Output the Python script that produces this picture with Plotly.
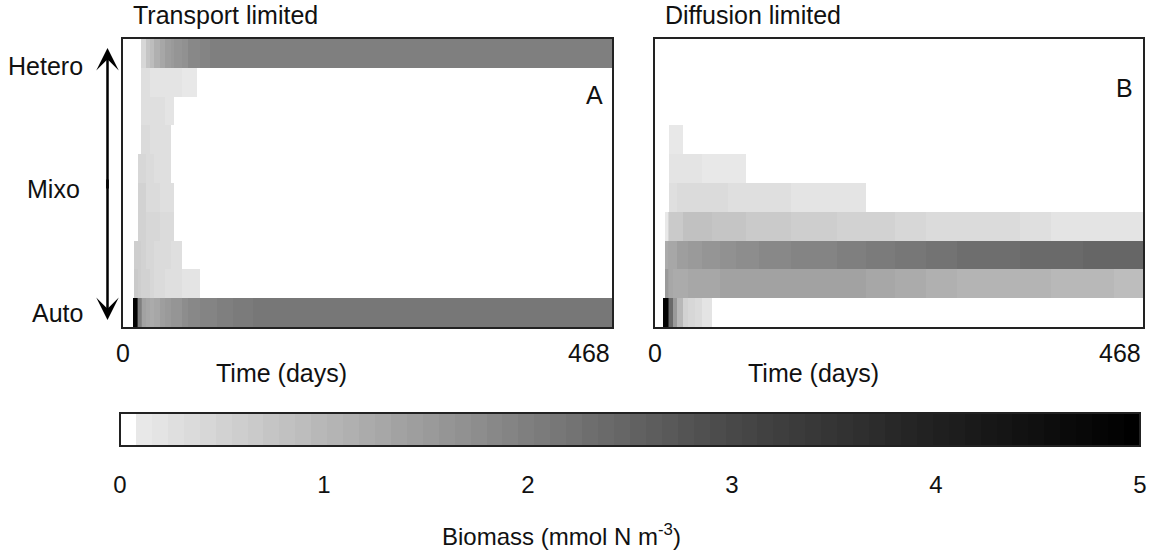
import numpy as np
import plotly.graph_objects as go

W, H = 1151, 550

# ---------------- data ----------------
panel_titles = ["Transport limited", "Diffusion limited"]
panel_letters = ["A", "B"]
time_tick_labels = ["0", "468"]
time_max = 468
cbar_ticks = [0, 1, 2, 3, 4, 5]
groups = list(range(10))  # 0 = Auto ... 9 = Hetero

# Panel A (transport limited): time bin edges (days)
time_edges_a = [0, 9.5, 10.5, 13.5, 14.5, 17, 18, 22, 26, 30, 35, 40, 46, 49, 56,
                62, 71, 74, 83, 90, 105, 124, 200, 300, 400, 468]
a_auto = [0, 4.9, 4.9, 3.5, 2.0, 1.84, 1.35, 1.25, 1.23, 1.3, 1.45, 1.54, 1.6, 1.63,
          1.73, 1.8, 1.82, 1.88, 1.9, 2.0, 2.07, 2.15, 2.15, 2.15, 2.15]
a_g1 = [0, 0, 0.68, 0.68, 0.6, 0.53, 0.53, 0.5, 0.42, 0.38, 0.36, 0.31, 0.31, 0.28,
        0.23, 0.23, 0.22, 0, 0, 0, 0, 0, 0, 0, 0]
a_g2 = [0, 0, 0.58, 0.58, 0.56, 0.5, 0.47, 0.45, 0.42, 0.38, 0.36, 0.33, 0.31, 0.29,
        0, 0, 0, 0, 0, 0, 0, 0, 0, 0, 0]
a_g3 = [0, 0, 0, 0, 0.53, 0.53, 0.5, 0.44, 0.42, 0.4, 0.36, 0.34, 0.33, 0,
        0, 0, 0, 0, 0, 0, 0, 0, 0, 0, 0]
a_g4 = [0, 0, 0, 0, 0.47, 0.47, 0.47, 0.38, 0.36, 0.34, 0.31, 0.30, 0.29, 0,
        0, 0, 0, 0, 0, 0, 0, 0, 0, 0, 0]
a_g5 = [0, 0, 0, 0, 0.44, 0.44, 0.44, 0.36, 0.34, 0.3, 0.27, 0.27, 0, 0,
        0, 0, 0, 0, 0, 0, 0, 0, 0, 0, 0]
a_g6 = [0, 0, 0, 0, 0, 0.34, 0.34, 0.34, 0.3, 0.27, 0.27, 0.27, 0, 0,
        0, 0, 0, 0, 0, 0, 0, 0, 0, 0, 0]
a_g7 = [0, 0, 0, 0, 0, 0.31, 0.31, 0.31, 0.28, 0.27, 0.26, 0.21, 0.19, 0,
        0, 0, 0, 0, 0, 0, 0, 0, 0, 0, 0]
a_g8 = [0, 0, 0, 0, 0, 0.31, 0.31, 0.31, 0.23, 0.23, 0.23, 0.21, 0.19, 0.17,
        0.12, 0.12, 0, 0, 0, 0, 0, 0, 0, 0, 0]
a_hetero = [0, 0, 0, 0, 0, 0.44, 0.45, 0.74, 0.9, 1.15, 1.3, 1.45, 1.55, 1.6,
            1.7, 1.8, 1.87, 1.89, 1.98, 1.98, 1.98, 1.98, 1.98, 1.98, 1.98]

# Panel B (diffusion limited)
time_edges_b = [0, 8, 9.6, 12.4, 13.4, 17, 21, 26.8, 32, 38, 45, 54.5, 62, 70, 78, 87,
                100, 115, 130, 150, 175, 202, 230, 260, 290, 320, 350, 380, 410, 440, 468]
b_auto = [0, 4.9, 4.9, 3.5, 2.4, 1.5, 1.0, 0.53, 0.45, 0.34, 0.19, 0, 0, 0, 0,
          0, 0, 0, 0, 0, 0, 0, 0, 0, 0, 0, 0, 0, 0, 0]
b_g1 = [0, 0, 1.54, 1.35, 1.27, 1.18, 1.18, 1.2, 1.27, 1.27, 1.3, 1.32, 1.34, 1.36, 1.36,
        1.36, 1.36, 1.36, 1.36, 1.36, 1.36, 1.27, 1.22, 1.15, 1.09, 1.07, 1.04, 1.0, 0.98, 0.93]
b_g2 = [0, 0, 1.21, 1.25, 1.32, 1.32, 1.43, 1.48, 1.52, 1.54, 1.61, 1.64, 1.68, 1.70, 1.73,
        1.79, 1.82, 1.86, 1.89, 1.93, 2.0, 2.09, 2.15, 2.22, 2.27, 2.31, 2.36, 2.42, 2.45, 2.49]
b_g3 = [0, 0, 0.12, 0.4, 0.68, 0.68, 0.68, 0.79, 0.79, 0.79, 0.79, 0.77, 0.74, 0.74, 0.74,
        0.7, 0.68, 0.65, 0.61, 0.57, 0.53, 0.47, 0.44, 0.38, 0.34, 0.32, 0.29, 0.23, 0.23, 0.23]
b_g4 = [0, 0, 0, 0, 0.31, 0.31, 0.36, 0.38, 0.38, 0.38, 0.34, 0.34, 0.34, 0.31, 0.31,
        0.29, 0.25, 0.25, 0.19, 0.19, 0.19, 0, 0, 0, 0, 0, 0, 0, 0, 0]
b_g5 = [0, 0, 0, 0, 0.23, 0.23, 0.23, 0.19, 0.19, 0.19, 0.14, 0.14, 0.14, 0.14, 0.14,
        0, 0, 0, 0, 0, 0, 0, 0, 0, 0, 0, 0, 0, 0, 0]
b_g6 = [0, 0, 0, 0, 0.14, 0.14, 0.14, 0, 0, 0, 0, 0, 0, 0, 0,
        0, 0, 0, 0, 0, 0, 0, 0, 0, 0, 0, 0, 0, 0, 0]
b_g7 = [0] * 30
b_g8 = [0] * 30
b_hetero = [0] * 30

rows_a = [a_auto, a_g1, a_g2, a_g3, a_g4, a_g5, a_g6, a_g7, a_g8, a_hetero]
rows_b = [b_auto, b_g1, b_g2, b_g3, b_g4, b_g5, b_g6, b_g7, b_g8, b_hetero]

# ---------------- style ----------------
FONT = "Liberation Sans, Arial, sans-serif"
TXT = "#111111"
FS = 25
ZMAX = 5
NSTEP = 64
anchor_v = [0.117, 1, 2, 3, 4, 4.96]
anchor_g = [232, 183, 127, 72, 32, 0]
colorscale = []
for k in range(NSTEP):
    if k == 0:
        g = 255
    else:
        g = int(round(np.interp((k + 0.5) * ZMAX / NSTEP, anchor_v, anchor_g)))
    c = f"rgb({g},{g},{g})"
    colorscale.append([k / NSTEP, c])
    colorscale.append([(k + 1) / NSTEP, c])


def px_x(p):
    return p / W


def px_y(p):
    return (H - p) / H


fig = go.Figure()
fig.add_trace(go.Heatmap(x=time_edges_a, y=groups, z=rows_a, coloraxis="coloraxis",
                         xaxis="x", yaxis="y", hoverinfo="skip"))
fig.add_trace(go.Heatmap(x=time_edges_b, y=groups, z=rows_b, coloraxis="coloraxis",
                         xaxis="x2", yaxis="y2", hoverinfo="skip"))

ax_common = dict(showgrid=False, zeroline=False, showticklabels=False, ticks="",
                 showline=True, linewidth=2, linecolor="#222222", mirror=True)
cb_left, cb_right, cb_top, cb_bot = 120, 1140, 413, 446

fig.update_layout(
    width=W, height=H,
    margin=dict(l=0, r=0, t=0, b=0),
    paper_bgcolor="white", plot_bgcolor="white",
    font=dict(family=FONT, size=FS, color=TXT),
    showlegend=False,
    xaxis=dict(domain=[px_x(123), px_x(612)], range=[0, time_max], anchor="y", **ax_common),
    yaxis=dict(domain=[px_y(327), px_y(39)], range=[-0.5, 9.5], anchor="x", **ax_common),
    xaxis2=dict(domain=[px_x(655), px_x(1143)], range=[0, time_max], anchor="y2", **ax_common),
    yaxis2=dict(domain=[px_y(327), px_y(39)], range=[-0.5, 9.5], anchor="x2", **ax_common),
    coloraxis=dict(
        colorscale=colorscale, cmin=0, cmax=ZMAX,
        colorbar=dict(
            orientation="h", x=px_x(cb_left), xanchor="left", y=px_y(cb_top), yanchor="top",
            len=(cb_right - cb_left) / W, lenmode="fraction",
            thickness=cb_bot - cb_top, thicknessmode="pixels",
            xpad=0, ypad=0, outlinewidth=2, outlinecolor="#222222",
            tickvals=cbar_ticks, ticktext=[str(t) for t in cbar_ticks],
            ticks="outside", ticklen=18, tickcolor="rgba(0,0,0,0)",
            tickfont=dict(size=FS - 1, color=TXT, family=FONT),
        ),
    ),
)

ann = []
# panel titles
for title, xp in zip(panel_titles, [131, 663]):
    ann.append(dict(text=title, xref="paper", yref="paper", x=px_x(xp), y=px_y(15),
                    xanchor="left", yanchor="middle", showarrow=False))
# panel letters
ann.append(dict(text=panel_letters[0], xref="x domain", yref="y domain", x=0.965, y=0.806,
                xanchor="center", yanchor="middle", showarrow=False))
ann.append(dict(text=panel_letters[1], xref="x2 domain", yref="y2 domain", x=0.963, y=0.83,
                xanchor="center", yanchor="middle", showarrow=False))
# time tick labels and axis titles
for xr in ["x", "x2"]:
    ann.append(dict(text=time_tick_labels[0], xref=xr, yref="paper", x=0, y=px_y(353),
                    xanchor="center", yanchor="middle", showarrow=False))
    ann.append(dict(text=time_tick_labels[1], xref=xr, yref="paper", x=time_max, y=px_y(353),
                    xanchor="right", yanchor="middle", showarrow=False))
    ann.append(dict(text="Time (days)", xref=xr, yref="paper", x=152, y=px_y(373),
                    xanchor="center", yanchor="middle", showarrow=False))
# row labels
for txt, yv, xp in [("Hetero", 8.58, 85), ("Mixo", 4.28, 82), ("Auto", 0, 85)]:
    ann.append(dict(text=txt, xref="paper", yref="y", x=px_x(xp), y=yv,
                    xanchor="right", yanchor="middle", showarrow=False))
# double arrow
for tip, ay in [(48, 142), (320, -142)]:
    ann.append(dict(text="", xref="paper", yref="paper", x=px_x(107.5), y=px_y(tip),
                    ax=0, ay=ay, showarrow=True, arrowhead=3, arrowsize=1.5,
                    arrowwidth=2.5, arrowcolor="#000000"))
# colorbar title
ann.append(dict(text="Biomass (mmol N m<sup>-3</sup>)", xref="paper", yref="paper",
                x=px_x(440), y=px_y(535), xanchor="left", yanchor="middle", showarrow=False,
                font=dict(size=FS - 1)))
fig.update_layout(annotations=ann)

# small inner tick marks of the colorbar
shapes = []
for v in cbar_ticks[1:-1]:
    xp = cb_left + v / ZMAX * (cb_right - cb_left)
    for y0, y1 in [(cb_top, cb_top + 4), (cb_bot - 4, cb_bot)]:
        shapes.append(dict(type="line", xref="paper", yref="paper", x0=px_x(xp), x1=px_x(xp),
                           y0=px_y(y0), y1=px_y(y1), line=dict(color="#111111", width=2)))
fig.update_layout(shapes=shapes)

fig.write_html("out.html", config={"displayModeBar": False},
               post_script="document.body.style.margin='0';document.body.style.padding='0';")
